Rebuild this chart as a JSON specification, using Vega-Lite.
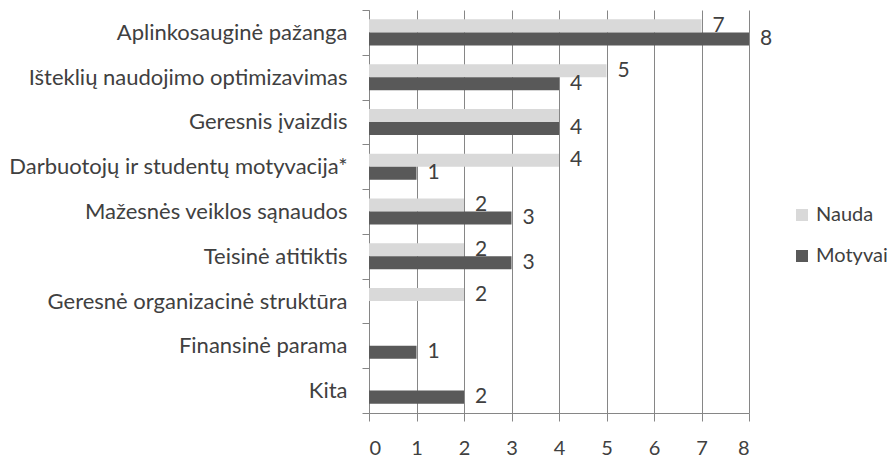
{
  "$schema": "https://vega.github.io/schema/vega-lite/v6.json",
  "autosize": {"type": "none"},
  "padding": {"left": 369, "top": 10, "right": 141, "bottom": 46},
  "width": 380,
  "height": 403,
  "background": "white",
  "config": {
    "view": {"stroke": null},
    "font": "Lato",
    "text": {"font": "Lato"}
  },
  "data": {
    "values": [
      {"kategorija": "Aplinkosauginė pažanga", "serija": "Nauda", "reiksme": 7},
      {"kategorija": "Aplinkosauginė pažanga", "serija": "Motyvai", "reiksme": 8},
      {"kategorija": "Išteklių naudojimo optimizavimas", "serija": "Nauda", "reiksme": 5},
      {"kategorija": "Išteklių naudojimo optimizavimas", "serija": "Motyvai", "reiksme": 4},
      {"kategorija": "Geresnis įvaizdis", "serija": "Nauda", "reiksme": 4},
      {"kategorija": "Geresnis įvaizdis", "serija": "Motyvai", "reiksme": 4},
      {"kategorija": "Darbuotojų ir studentų motyvacija*", "serija": "Nauda", "reiksme": 4},
      {"kategorija": "Darbuotojų ir studentų motyvacija*", "serija": "Motyvai", "reiksme": 1},
      {"kategorija": "Mažesnės veiklos sąnaudos", "serija": "Nauda", "reiksme": 2},
      {"kategorija": "Mažesnės veiklos sąnaudos", "serija": "Motyvai", "reiksme": 3},
      {"kategorija": "Teisinė atitiktis", "serija": "Nauda", "reiksme": 2},
      {"kategorija": "Teisinė atitiktis", "serija": "Motyvai", "reiksme": 3},
      {"kategorija": "Geresnė organizacinė struktūra", "serija": "Nauda", "reiksme": 2},
      {"kategorija": "Finansinė parama", "serija": "Motyvai", "reiksme": 1},
      {"kategorija": "Kita", "serija": "Motyvai", "reiksme": 2}
    ]
  },
  "encoding": {
    "y": {
      "field": "kategorija",
      "type": "nominal",
      "sort": null,
      "scale": {
        "domain": ["Aplinkosauginė pažanga", "Išteklių naudojimo optimizavimas", "Geresnis įvaizdis", "Darbuotojų ir studentų motyvacija*", "Mažesnės veiklos sąnaudos", "Teisinė atitiktis", "Geresnė organizacinė struktūra", "Finansinė parama", "Kita"],
        "paddingInner": 0,
        "paddingOuter": 0
      },
      "axis": {
        "title": null,
        "tickBand": "extent",
        "tickSize": 7,
        "tickColor": "#868686",
        "domainColor": "#868686",
        "labelFontSize": 22,
        "labelColor": "#404040",
        "labelPadding": 15,
        "labelFont": "Lato",
        "labelLimit": 400,
        "grid": false
      }
    },
    "yOffset": {
      "field": "serija",
      "type": "nominal",
      "scale": {"domain": ["Nauda", "Motyvai"], "paddingInner": 0, "paddingOuter": 0.72}
    },
    "x": {
      "field": "reiksme",
      "type": "quantitative",
      "scale": {"domain": [0, 8], "nice": false},
      "axis": {
        "title": null,
        "values": [0, 1, 2, 3, 4, 5, 6, 7, 8],
        "grid": true,
        "gridColor": "#868686",
        "gridOpacity": 1,
        "tickSize": 8,
        "tickColor": "#868686",
        "domainColor": "#868686",
        "labelFontSize": 20,
        "labelColor": "#404040",
        "labelPadding": 17,
        "labelFont": "Lato"
      }
    }
  },
  "layer": [
    {
      "mark": {"type": "bar"},
      "encoding": {
        "color": {
          "field": "serija",
          "type": "nominal",
          "scale": {"domain": ["Nauda", "Motyvai"], "range": ["#d9d9d9", "#595959"]},
          "legend": {
            "title": null,
            "orient": "none",
            "legendX": 423,
            "legendY": 195,
            "padding": 0,
            "symbolType": "square",
            "symbolSize": 144,
            "symbolStrokeWidth": 0,
            "labelFontSize": 20,
            "labelColor": "#404040",
            "labelFont": "Lato",
            "labelOffset": 4,
            "rowPadding": 21
          }
        }
      }
    },
    {
      "transform": [{"filter": "datum.kategorija != 'Geresnis įvaizdis' || datum.serija == 'Motyvai'"}],
      "mark": {"type": "text", "align": "left", "baseline": "middle", "dx": 11, "fontSize": 21, "color": "#404040", "font": "Lato"},
      "encoding": {
        "text": {"field": "reiksme", "type": "quantitative"}
      }
    }
  ]
}
